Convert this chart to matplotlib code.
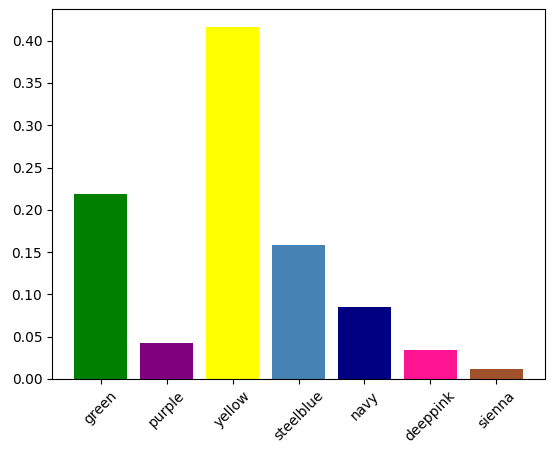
import matplotlib.pyplot as plt

colors = ["green", "purple", "yellow", "steelblue", "navy", "deeppink", "sienna"]
values = [0.219, 0.0426, 0.4166, 0.1586, 0.0852, 0.0343, 0.0118]

fig = plt.figure(figsize=(5.56, 4.54), dpi=100)
ax = fig.add_axes([52/556, 1 - 379/454, (545-52)/556, (379-9)/454])
ax.bar(colors, values, color=colors)
ax.tick_params(axis='x', labelrotation=45)
fig.savefig("out.png", dpi=100)
